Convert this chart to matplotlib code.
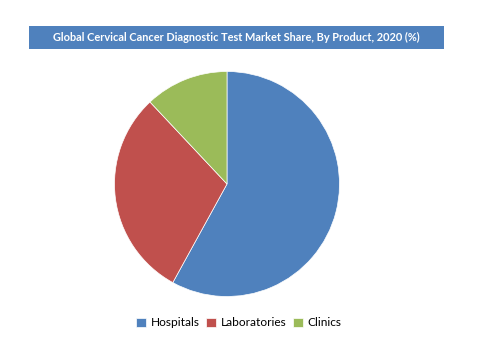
import matplotlib
matplotlib.use('Agg')
import matplotlib.pyplot as plt
from matplotlib.patches import Rectangle

products = ['Hospitals', 'Laboratories', 'Clinics']
shares = [58, 30, 12]
colors = ['#4F81BD', '#C0504D', '#9BBB59']
title = 'Global Cervical Cancer Diagnostic Test Market Share, By Product, 2020 (%)'

W, H = 485, 348
fig = plt.figure(figsize=(W / 100, H / 100), dpi=100)
plt.rcParams['font.family'] = ['Lato', 'DejaVu Sans']

# title banner
fig.patches.append(Rectangle((29 / W, 1 - 49 / H), (444 - 29) / W, 23 / H,
                             transform=fig.transFigure, facecolor='#4F81BD',
                             edgecolor='none'))
fig.text(236 / W, 1 - 37.5 / H, title, color='white', fontsize=7.9,
         fontweight='bold', ha='center', va='center')

cx, cy, r = 227, 184, 112.5
ax = fig.add_axes([(cx - r) / W, (H - cy - r) / H, 2 * r / W, 2 * r / H])
wedges, _ = ax.pie(shares, colors=colors, startangle=90, counterclock=False,
                   radius=1, wedgeprops=dict(linewidth=0.5, edgecolor='white'))
ax.set_xlim(-1, 1)
ax.set_ylim(-1, 1)
ax.set_aspect('equal')
ax.axis('off')

fig.legend(wedges, products, loc='center', bbox_to_anchor=(239 / W, 1 - 323 / H),
           ncol=3, frameon=False, fontsize=8.6, handlelength=0.85, handleheight=0.85,
           handletextpad=0.4, columnspacing=0.5)

fig.savefig('out.png', dpi=100)
